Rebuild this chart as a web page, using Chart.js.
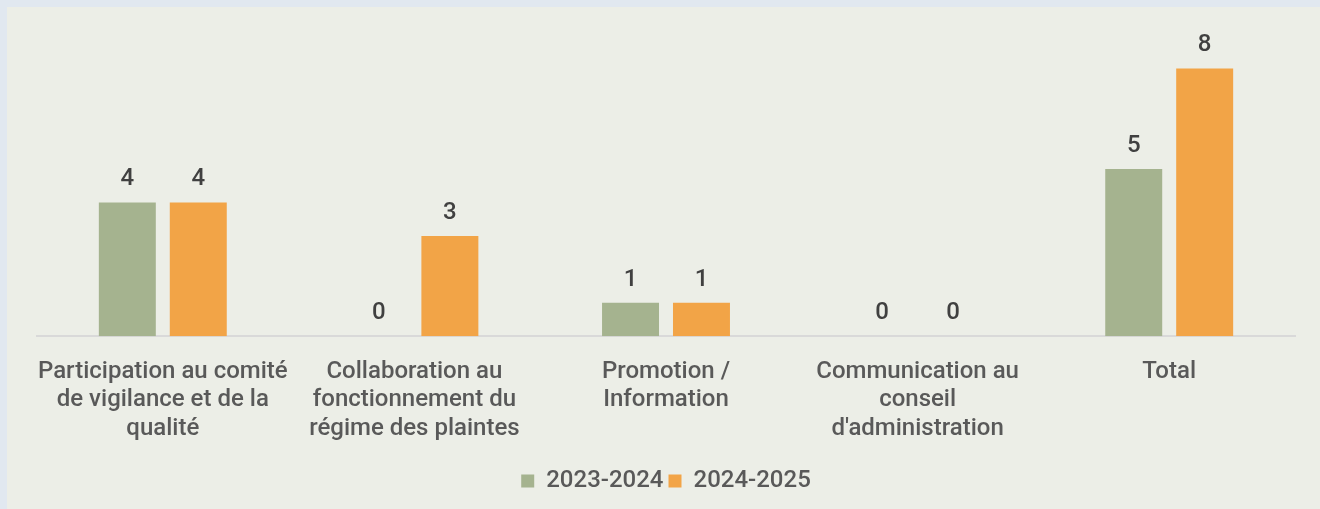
<!DOCTYPE html>
<html>
<head>
<meta charset="utf-8">
<script src="https://cdn.jsdelivr.net/npm/chart.js@4.4.1/dist/chart.umd.min.js"></script>
<style>
html,body{margin:0;padding:0;background:#e1e8f0;width:1320px;height:509px;overflow:hidden;}
#wrap{position:absolute;left:7px;top:7px;width:1313px;height:502px;background:#eceee7;}
canvas{display:block;}
</style>
</head>
<body>
<div id="wrap"><canvas id="c" width="1313" height="502"></canvas></div>
<script>
const categories = [
  ["Participation au comité", "de vigilance et de la", "qualité"],
  ["Collaboration au", "fonctionnement du", "régime des plaintes"],
  ["Promotion /", "Information"],
  ["Communication au", "conseil", "d'administration"],
  ["Total"]
];
const seriesNames = ["2023-2024", "2024-2025"];
const values2023 = [4, 0, 1, 0, 5];
const values2024 = [4, 3, 1, 0, 8];
const colors = ["#a5b38f", "#f2a447"];

const FONT = "Roboto, 'DejaVu Sans', sans-serif";

const valueLabels = {
  id: 'valueLabels',
  afterDatasetsDraw(chart) {
    const ctx = chart.ctx;
    ctx.save();
    ctx.font = "500 24px " + FONT;
    ctx.fillStyle = "#404040";
    ctx.textAlign = "center";
    ctx.textBaseline = "alphabetic";
    chart.data.datasets.forEach((ds, i) => {
      const meta = chart.getDatasetMeta(i);
      meta.data.forEach((bar, j) => {
        ctx.fillText(String(ds.data[j]), bar.x, bar.y - 17);
      });
    });
    ctx.restore();
  }
};

new Chart(document.getElementById('c'), {
  type: 'bar',
  data: {
    labels: categories,
    datasets: [
      { label: seriesNames[0], data: values2023, backgroundColor: colors[0], categoryPercentage: 0.564, barPercentage: 0.803 },
      { label: seriesNames[1], data: values2024, backgroundColor: colors[1], categoryPercentage: 0.564, barPercentage: 0.803 }
    ]
  },
  options: {
    responsive: false,
    animation: false,
    layout: { padding: { left: 30, right: 25, top: 28, bottom: 6 } },
    scales: {
      x: {
        grid: { display: false, drawTicks: false },
        border: { display: true, color: "#d9d9d9", width: 2 },
        ticks: {
          color: "#595959",
          font: { family: FONT, size: 24, weight: 500, lineHeight: 1.19 },
          padding: 21,
          maxRotation: 0,
          autoSkip: false
        }
      },
      y: {
        display: false,
        min: 0,
        max: 9
      }
    },
    plugins: {
      legend: {
        position: 'bottom',
        labels: {
          color: "#595959",
          font: { family: FONT, size: 24, weight: 500 },
          boxWidth: 13,
          boxHeight: 13,
          padding: 5
        }
      },
      tooltip: { enabled: false }
    }
  },
  plugins: [valueLabels]
});
</script>
</body>
</html>
